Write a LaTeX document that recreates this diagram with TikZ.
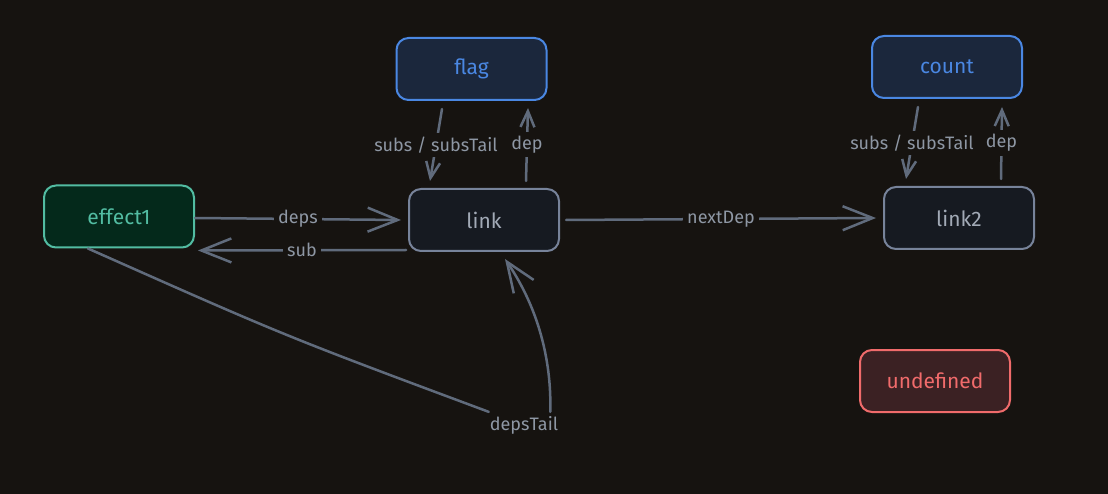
\documentclass[tikz,border=0pt]{standalone}
\usepackage{fontspec}
\setmainfont{Fira Sans}
\usetikzlibrary{arrows.meta,positioning}
\definecolor{canvasbg}{HTML}{161310}
\definecolor{wiregrey}{HTML}{606B7C}
\definecolor{labelgrey}{HTML}{8E97A4}
\definecolor{effectline}{HTML}{52BCA2}
\definecolor{effectfill}{HTML}{04291B}
\definecolor{signalline}{HTML}{4A87E2}
\definecolor{signalfill}{HTML}{1B273C}
\definecolor{linkline}{HTML}{77839A}
\definecolor{linkfill}{HTML}{161A21}
\definecolor{linktext}{HTML}{A2AAB6}
\definecolor{undefline}{HTML}{F06B6B}
\definecolor{undeffill}{HTML}{3B2123}

\begin{document}
\begin{tikzpicture}[x=1pt, y=-1pt,
  box/.style={draw, rounded corners=12pt, line width=2pt, minimum width=150pt, minimum height=62pt, font=\fontsize{21}{24}\selectfont},
  effectbox/.style={box, draw=effectline, fill=effectfill, text=effectline},
  signalbox/.style={box, draw=signalline, fill=signalfill, text=signalline},
  linkbox/.style={box, draw=linkline, fill=linkfill, text=linktext},
  undefbox/.style={box, draw=undefline, fill=undeffill, text=undefline},
  conn/.style={draw=wiregrey, line width=2.5pt, line cap=round, -{Straight Barb[length=30pt, width=24pt, line width=2.5pt]}},
  shortconn/.style={conn, -{Straight Barb[length=16pt, width=14pt, line width=2.5pt]}},
  lbl/.style={fill=canvasbg, text=labelgrey, font=\fontsize{18}{20}\selectfont, inner sep=4pt}]
  % Canvas
  \fill[canvasbg] (0,0) rectangle (1108,494);
  \useasboundingbox (0,0) rectangle (1108,494);

  % Block Nodes
  \node[effectbox] (effect1) at (119, 216.5) {effect1};
  \node[signalbox] (flag) at (471.5, 69) {flag};
  \node[signalbox] (count) at (947, 67) {count};
  \node[linkbox] (link) at (484, 220) {link};
  \node[linkbox] (link2) at (959, 218) {link2};
  \node[undefbox] (undef) at (935, 381) {undefined};

  % Effect <-> link
  \draw[conn] ([yshift=-1.5pt]effect1.east) -- node[lbl] {deps} ([xshift=-7pt]link.west);
  \draw[conn] ([xshift=-2pt, yshift=2pt]link.south west) -- node[lbl] {sub} ([xshift=3pt, yshift=-2pt]effect1.south east);

  % Signal <-> link
  \draw[shortconn] ([xshift=-29.5pt, yshift=-8pt]flag.south) -- node[lbl] {subs / subsTail} ([xshift=-54pt, yshift=7pt]link.north);
  \draw[shortconn] ([xshift=42pt, yshift=7pt]link.north) -- node[lbl] {dep} ([xshift=56.5pt, yshift=-7pt]flag.south);
  \draw[shortconn] ([xshift=-29pt, yshift=-8pt]count.south) -- node[lbl] {subs / subsTail} ([xshift=-53pt, yshift=7pt]link2.north);
  \draw[shortconn] ([xshift=42pt, yshift=7pt]link2.north) -- node[lbl] {dep} ([xshift=55pt, yshift=-8pt]count.south);

  % Link chain
  \draw[conn] ([xshift=6pt]link.east) -- node[lbl] {nextDep} ([xshift=-7pt]link2.west);

  % Tail pointer
  \node[lbl] (dtail) at (524, 425) {depsTail};
  \draw[conn] ([xshift=-31pt]effect1.south) .. controls (285, 336) .. (dtail)
    ([xshift=-12pt]dtail.north east) .. controls (552, 340) and (526, 290) .. ([xshift=21pt, yshift=-7pt]link.south);
\end{tikzpicture}
\end{document}
